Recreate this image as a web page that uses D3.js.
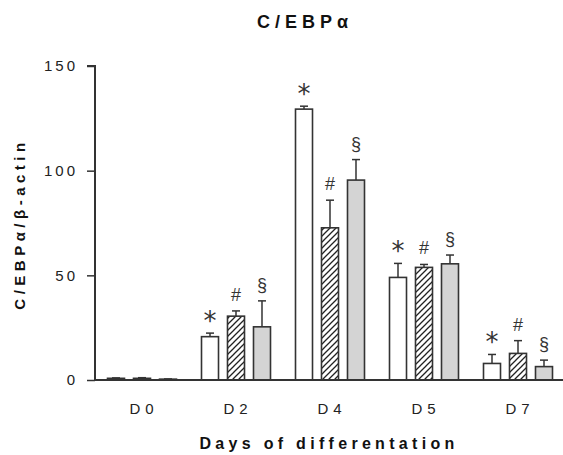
<!DOCTYPE html>
<html>
<head>
<meta charset="utf-8">
<script src="https://cdn.jsdelivr.net/npm/d3@7"></script>
<style>
  body { margin: 0; background: #fff; }
  text { font-family: "Liberation Sans", Arial, sans-serif; fill: #111; }
</style>
</head>
<body>
<div id="chart"></div>
<script>
// Data
const days = ["D0", "D2", "D4", "D5", "D7"];
const groups = ["white", "hatched", "gray"];
const whiteMeans = [0.8, 20.7, 129.4, 49.0, 7.9];
const whiteErr = [0.2, 1.7, 1.4, 6.7, 4.3];
const hatchedMeans = [0.8, 30.5, 72.7, 53.8, 12.7];
const hatchedErr = [0.3, 2.5, 13.2, 1.4, 6.1];
const grayMeans = [0.4, 25.4, 95.5, 55.5, 6.4];
const grayErr = [0.1, 12.4, 9.8, 4.2, 3.1];
const marks = ["*", "#", "§"];
const yTicks = [0, 50, 100, 150];

const series = [
    { key: "white", means: whiteMeans, err: whiteErr, fill: "#fff", mark: marks[0] },
    { key: "hatched", means: hatchedMeans, err: hatchedErr, fill: "url(#hatch)", mark: marks[1] },
    { key: "gray", means: grayMeans, err: grayErr, fill: "#d4d4d4", mark: marks[2] }
];

const W = 563, H = 455;
const margin = { top: 66, right: 0, bottom: 75, left: 95 };

const svg = d3.select("#chart").append("svg")
    .attr("width", W)
    .attr("height", H);

// hatch pattern for the middle series
const pat = svg.append("defs").append("pattern")
    .attr("id", "hatch")
    .attr("patternUnits", "userSpaceOnUse")
    .attr("width", 6)
    .attr("height", 6);
pat.append("rect").attr("width", 6).attr("height", 6).attr("fill", "#fff");
pat.append("path")
    .attr("d", "M-1,7 L7,-1 M-4,4 L4,-4 M2,10 L10,2")
    .attr("stroke", "#222")
    .attr("stroke-width", 1.3);

const x0 = d3.scaleBand()
    .domain(days)
    .range([margin.left, W - margin.right + 2])
    .paddingInner(0.266)
    .paddingOuter(0.133);

const x1 = d3.scaleBand()
    .domain(groups)
    .range([0, x0.bandwidth()])
    .paddingInner(0.346);

const y = d3.scaleLinear()
    .domain([0, 150])
    .range([H - margin.bottom, margin.top]);

const bars = [];
series.forEach(s => {
    days.forEach((d, i) => {
        bars.push({ day: d, i: i, s: s, v: s.means[i], e: s.err[i] });
    });
});

const g = svg.append("g");

// Bars
g.selectAll("rect.bar")
    .data(bars)
    .join("rect")
    .attr("class", "bar")
    .attr("x", d => x0(d.day) + x1(d.s.key))
    .attr("y", d => y(d.v))
    .attr("width", x1.bandwidth())
    .attr("height", d => y(0) - y(d.v))
    .attr("fill", d => d.s.fill)
    .attr("stroke", "#333")
    .attr("stroke-width", 1.6);

// Error bars (upper only)
const cx = d => x0(d.day) + x1(d.s.key) + x1.bandwidth() / 2;
g.selectAll("line.err")
    .data(bars)
    .join("line")
    .attr("class", "err")
    .attr("x1", cx).attr("x2", cx)
    .attr("y1", d => y(d.v))
    .attr("y2", d => y(d.v + d.e))
    .attr("stroke", "#333")
    .attr("stroke-width", 1.5);

g.selectAll("line.cap")
    .data(bars)
    .join("line")
    .attr("class", "cap")
    .attr("x1", d => cx(d) - 4).attr("x2", d => cx(d) + 4)
    .attr("y1", d => y(d.v + d.e))
    .attr("y2", d => y(d.v + d.e))
    .attr("stroke", "#333")
    .attr("stroke-width", 1.5);

// Significance marks (not on D0)
g.selectAll("text.mark")
    .data(bars.filter(d => d.i > 0))
    .join("text")
    .attr("class", "mark")
    .attr("x", cx)
    .attr("y", d => y(d.v + d.e) - (d.s.mark === "*" ? 3 : 10))
    .attr("text-anchor", "middle")
    .style("font-family", d => d.s.mark === "*" ? "'DejaVu Sans', sans-serif" : "'Liberation Sans', Arial, sans-serif")
    .style("font-size", d => d.s.mark === "*" ? "26px" : "18px")
    .style("fill", "#333")
    .text(d => d.s.mark);

// Y axis
const yAxis = svg.append("g")
    .attr("transform", `translate(${margin.left},0)`)
    .call(d3.axisLeft(y).tickValues(yTicks).tickSize(8).tickPadding(12));
yAxis.select(".domain").attr("stroke", "#333").attr("stroke-width", 2)
    .attr("d", `M-8,${y(150)}H0V${y(0)}`);
yAxis.selectAll(".tick line").attr("stroke", "#333").attr("stroke-width", 1.5);
yAxis.selectAll(".tick text")
    .attr("font-size", 15)
    .attr("letter-spacing", 3)
    .attr("dx", 3)
    .style("fill", "#222");

// X axis
const xAxis = svg.append("g")
    .attr("transform", `translate(0,${y(0)})`)
    .call(d3.axisBottom(x0).tickSize(0).tickPadding(23));
xAxis.select(".domain").attr("stroke", "#333").attr("stroke-width", 2)
    .attr("d", `M${margin.left - 1},0H${W}`);
xAxis.selectAll(".tick text")
    .attr("font-size", 15)
    .attr("letter-spacing", 5)
    .attr("dx", 2)
    .style("fill", "#222");

// Title
svg.append("text")
    .attr("x", 305)
    .attr("y", 28)
    .attr("text-anchor", "middle")
    .attr("font-size", 18)
    .attr("font-weight", "bold")
    .attr("letter-spacing", 5)
    .text("C/EBPα");

// X axis title
svg.append("text")
    .attr("x", 329)
    .attr("y", 449)
    .attr("text-anchor", "middle")
    .attr("font-size", 16)
    .attr("font-weight", "bold")
    .attr("letter-spacing", 4.3)
    .text("Days of differentation");

// Y axis title
svg.append("text")
    .attr("transform", "translate(25,224) rotate(-90)")
    .attr("text-anchor", "middle")
    .attr("font-size", 15)
    .attr("font-weight", "bold")
    .attr("letter-spacing", 4.5)
    .text("C/EBPα/β-actin");
</script>
</body>
</html>
